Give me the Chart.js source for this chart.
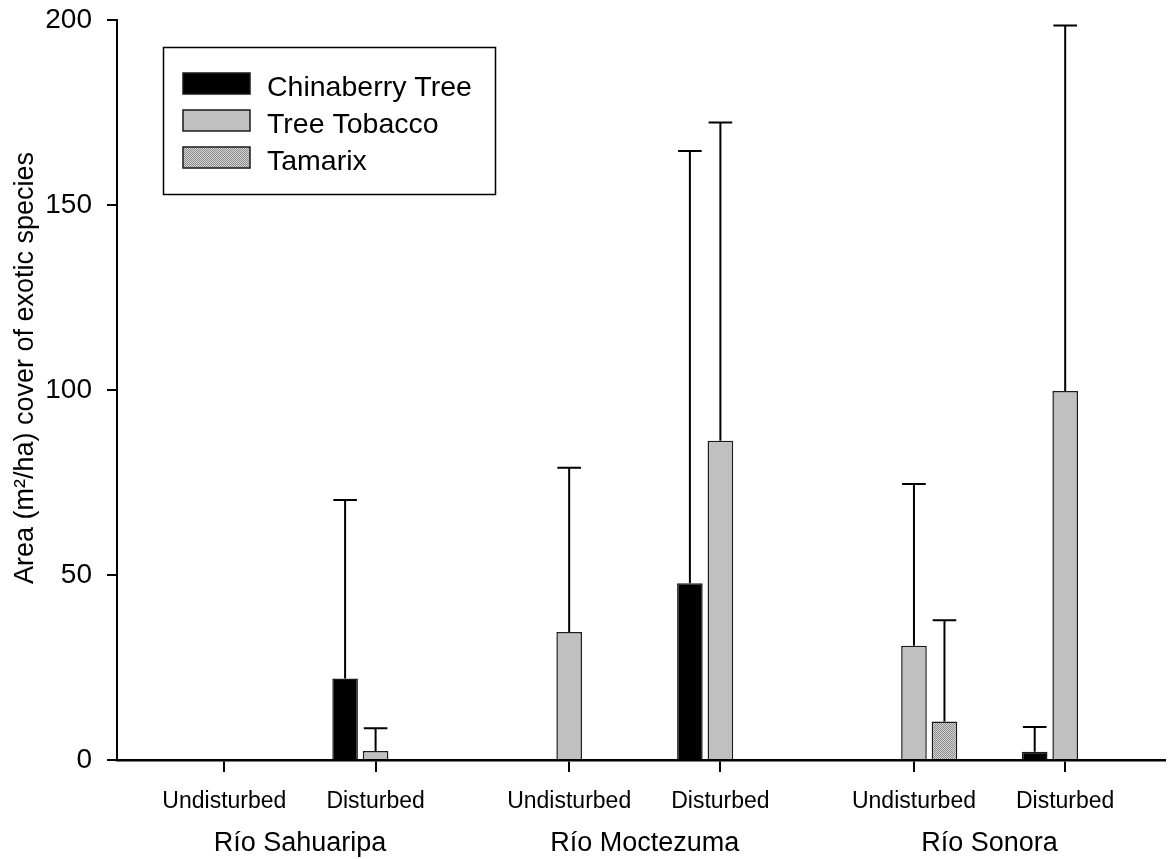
<!DOCTYPE html>
<html>
<head>
<meta charset="utf-8">
<title>Area cover of exotic species</title>
<script src="https://cdn.jsdelivr.net/npm/chart.js@4.4.1/dist/chart.umd.min.js"></script>
<style>
    html, body { margin: 0; padding: 0; background: #fff; }
    #wrap { width: 1169px; height: 859px; }
</style>
</head>
<body>
<div id="wrap"><canvas id="coverChart" width="1169" height="859"></canvas></div>
<script>
const conditions = ['Undisturbed', 'Disturbed', 'Undisturbed', 'Disturbed', 'Undisturbed', 'Disturbed'];
const rivers = ['Río Sahuaripa', 'Río Moctezuma', 'Río Sonora'];
const yLabel = 'Area (m²/ha) cover of exotic species';

// mean cover and upper error per river / condition
const chinaberryMean = [0, 22.0, 0, 47.8, 0, 2.2];
const chinaberryErr = [0, 48.3, 0, 116.8, 0, 6.7];
const tobaccoMean = [0, 2.4, 34.6, 86.3, 30.9, 99.7];
const tobaccoErr = [0, 6.2, 44.4, 86.0, 43.7, 98.8];
const tamarixMean = [0, 0, 0, 0, 10.4, 0];
const tamarixErr = [0, 0, 0, 0, 27.4, 0];

const yTicks = [0, 50, 100, 150, 200];

// the two conditions of a river sit one unit apart, rivers a bit further
const GROUP_STEP = 2.28;
const X_MIN = -0.71;
const X_MAX = 6.22;
const conditionX = conditions.map((c, i) => Math.floor(i / 2) * GROUP_STEP + i % 2);
const riverX = rivers.map((r, g) => g * GROUP_STEP + 0.5);

const FONT = "'Liberation Sans', Arial, sans-serif";
Chart.defaults.font.family = FONT;
Chart.defaults.color = '#000';

function stipple() {
    const c = document.createElement('canvas');
    c.width = 2;
    c.height = 2;
    const p = c.getContext('2d');
    p.fillStyle = '#d6d6d6';
    p.fillRect(0, 0, 2, 2);
    p.fillStyle = '#8a8a8a';
    p.fillRect(0, 0, 1, 1);
    p.fillRect(1, 1, 1, 1);
    return p.createPattern(c, 'repeat');
}

function series(label, means, errs, fill) {
    return {
        label: label,
        errors: errs,
        data: means.map((v, i) => ({ x: conditionX[i], y: v })),
        backgroundColor: fill,
        borderColor: '#1a1a1a',
        borderWidth: 1.5,
        categoryPercentage: 0.605,
        barPercentage: 0.84
    };
}

const errorBars = {
    id: 'errorBars',
    afterDatasetsDraw(chart) {
        const ctx = chart.ctx;
        const y = chart.scales.y;
        ctx.save();
        ctx.strokeStyle = '#000';
        ctx.lineWidth = 2;
        chart.data.datasets.forEach((ds, i) => {
            chart.getDatasetMeta(i).data.forEach((bar, j) => {
                const err = ds.errors[j];
                if (!err) return;
                const top = y.getPixelForValue(ds.data[j].y + err);
                const half = bar.width / 2 - 1;
                ctx.beginPath();
                ctx.moveTo(bar.x, bar.y);
                ctx.lineTo(bar.x, top);
                ctx.moveTo(bar.x - half, top);
                ctx.lineTo(bar.x + half, top);
                ctx.stroke();
            });
        });
        ctx.restore();
    }
};

const boxLegend = {
    id: 'boxLegend',
    afterDraw(chart) {
        const ctx = chart.ctx;
        ctx.save();
        ctx.strokeStyle = '#000';
        ctx.lineWidth = 1.5;
        ctx.strokeRect(163.5, 47.5, 332, 147);
        ctx.font = '28.5px ' + FONT;
        ctx.textBaseline = 'alphabetic';
        chart.data.datasets.forEach((ds, i) => {
            const top = 73 + i * 37;
            ctx.fillStyle = ds.backgroundColor;
            ctx.fillRect(183, top, 67, 21);
            ctx.strokeStyle = ds.borderColor;
            ctx.strokeRect(183, top, 67, 21);
            ctx.fillStyle = '#000';
            ctx.fillText(ds.label, 267, top + 23);
        });
        ctx.restore();
    }
};

const yTitle = {
    id: 'yTitle',
    afterDraw(chart) {
        const ctx = chart.ctx;
        ctx.save();
        ctx.translate(33, 368);
        ctx.rotate(-Math.PI / 2);
        ctx.font = '27px ' + FONT;
        ctx.textAlign = 'center';
        ctx.textBaseline = 'alphabetic';
        ctx.fillStyle = '#000';
        ctx.fillText(yLabel, 0, 0);
        ctx.restore();
    }
};

new Chart(document.getElementById('coverChart'), {
    type: 'bar',
    data: {
        datasets: [
            series('Chinaberry Tree', chinaberryMean, chinaberryErr, '#000000'),
            series('Tree Tobacco', tobaccoMean, tobaccoErr, '#c0c0c0'),
            series('Tamarix', tamarixMean, tamarixErr, stipple())
        ]
    },
    options: {
        responsive: false,
        animation: false,
        devicePixelRatio: 1,
        layout: { padding: { top: 20, right: 4, left: 0, bottom: 0 } },
        plugins: {
            legend: { display: false },
            tooltip: { enabled: false }
        },
        scales: {
            x: {
                type: 'linear',
                offset: false,
                min: X_MIN,
                max: X_MAX,
                afterBuildTicks: axis => { axis.ticks = conditionX.map(v => ({ value: v })); },
                afterFit: axis => { axis.height = 62; },
                border: { color: '#000', width: 2.5 },
                grid: { offset: false, drawOnChartArea: false, color: '#000', lineWidth: 2, tickLength: 12 },
                ticks: {
                    callback: (v, i) => conditions[i],
                    font: { size: 23 },
                    padding: 16,
                    autoSkip: false,
                    maxRotation: 0
                }
            },
            x2: {
                type: 'linear',
                position: 'bottom',
                offset: false,
                weight: 1,
                min: X_MIN,
                max: X_MAX,
                afterBuildTicks: axis => { axis.ticks = riverX.map(v => ({ value: v })); },
                afterFit: axis => { axis.height = 37; },
                border: { display: false },
                grid: { offset: false, display: false, drawTicks: false },
                ticks: {
                    callback: (v, i) => rivers[i],
                    font: { size: 27 },
                    padding: 5,
                    autoSkip: false,
                    maxRotation: 0
                }
            },
            y: {
                min: 0,
                max: 200,
                afterBuildTicks: axis => { axis.ticks = yTicks.map(v => ({ value: v })); },
                afterFit: axis => {
                    axis.width = 117;
                    axis.paddingTop = 17;
                    axis.paddingBottom = 17;
                },
                border: { color: '#000', width: 2 },
                grid: { drawOnChartArea: false, color: '#000', lineWidth: 2, tickLength: 10 },
                ticks: { font: { size: 28 }, padding: 15 }
            }
        }
    },
    plugins: [errorBars, boxLegend, yTitle]
});
</script>
</body>
</html>
